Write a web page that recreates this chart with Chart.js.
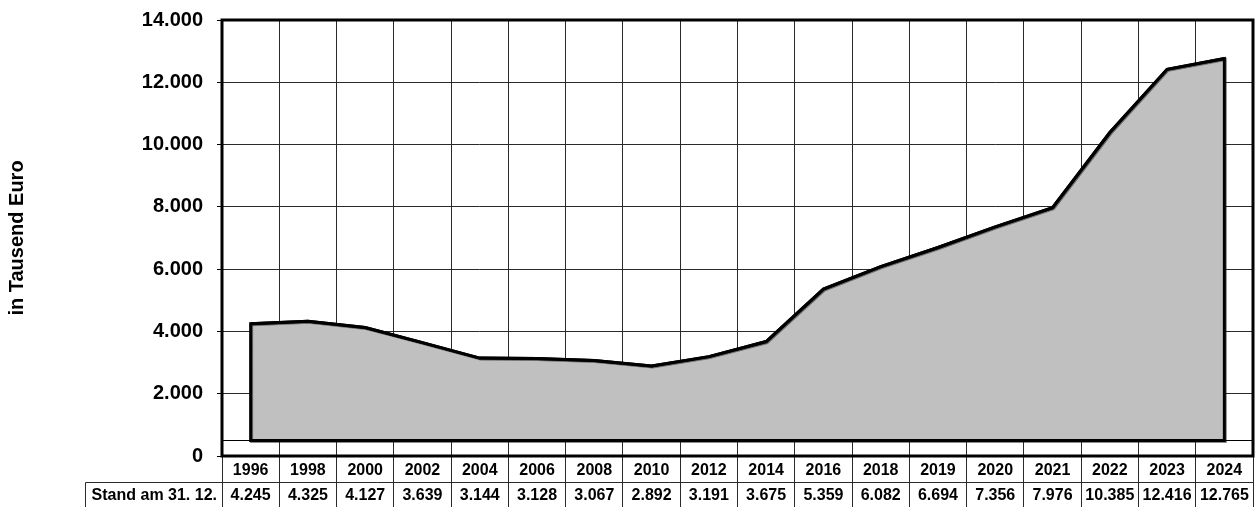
<!DOCTYPE html>
<html>
<head>
<meta charset="utf-8">
<script src="https://cdn.jsdelivr.net/npm/chart.js@4/dist/chart.umd.min.js"></script>
<style>
  html, body { margin: 0; padding: 0; background: #fff; }
  #wrap { width: 1255px; height: 507px; }
</style>
</head>
<body>
<div id="wrap"><canvas id="chart" width="1255" height="507"></canvas></div>
<script>
// Data
const years = ['1996', '1998', '2000', '2002', '2004', '2006', '2008', '2010', '2012',
               '2014', '2016', '2018', '2019', '2020', '2021', '2022', '2023', '2024'];
const stand = [4245, 4325, 4127, 3639, 3144, 3128, 3067, 2892, 3191,
               3675, 5359, 6082, 6694, 7356, 7976, 10385, 12416, 12765];
const yMin = 0, yMax = 14000, yStep = 2000;
const areaBase = 500;                 // area is filled down to this value
const axisTitle = 'in Tausend Euro';
const rowLabel = 'Stand am 31. 12.';

const FONT = "'Liberation Sans', Arial, sans-serif";
const GRID = '#2a2a2a';

// 12765 -> "12.765"
const fmt = v => String(v).replace(/\B(?=(\d{3})+(?!\d))/g, '.');

// Outline of the area, base line, frame and the data row under the axis
const tablePlugin = {
    id: 'standTable',
    beforeDatasetsDraw(chart) {
        const { ctx, chartArea: a, scales: { y } } = chart;
        const yb = Math.round(y.getPixelForValue(areaBase)) + 0.5;
        ctx.save();
        ctx.strokeStyle = '#000';
        ctx.lineWidth = 1;
        ctx.beginPath();
        ctx.moveTo(a.left, yb);
        ctx.lineTo(a.right, yb);
        ctx.stroke();
        ctx.restore();
    },
    afterDatasetsDraw(chart) {
        const { ctx, scales: { y } } = chart;
        const pts = chart.getDatasetMeta(0).data;
        const yb = y.getPixelForValue(areaBase);
        ctx.save();
        ctx.strokeStyle = '#000';
        ctx.lineWidth = 3;
        ctx.lineJoin = 'miter';
        ctx.shadowColor = 'rgba(0,0,0,0.45)';
        ctx.shadowBlur = 0;
        ctx.shadowOffsetX = 1;
        ctx.shadowOffsetY = 1;
        ctx.beginPath();
        ctx.moveTo(pts[0].x, yb);
        pts.forEach(p => ctx.lineTo(p.x, p.y));
        ctx.lineTo(pts[pts.length - 1].x, yb);
        ctx.closePath();
        ctx.stroke();
        ctx.restore();
    },
    afterDraw(chart) {
        const { ctx, chartArea: a, scales: { x } } = chart;
        const rowTop = a.bottom + 26.5;
        const labelLeft = 85.5;
        ctx.save();
        // frame
        ctx.strokeStyle = '#000';
        ctx.lineWidth = 3;
        ctx.strokeRect(a.left, a.top, a.right - a.left, a.bottom - a.top);
        // data row lines
        ctx.lineWidth = 1;
        ctx.strokeStyle = GRID;
        ctx.beginPath();
        ctx.moveTo(labelLeft, rowTop);
        ctx.lineTo(a.right, rowTop);
        ctx.moveTo(labelLeft, rowTop);
        ctx.lineTo(labelLeft, chart.height);
        ctx.stroke();
        // data row texts
        const cy = (rowTop + chart.height) / 2 + 0.5;
        ctx.fillStyle = '#000';
        ctx.font = 'bold 16px ' + FONT;
        ctx.textBaseline = 'middle';
        ctx.textAlign = 'right';
        ctx.fillText(rowLabel, a.left - 5, cy);
        ctx.textAlign = 'center';
        stand.forEach((v, i) => ctx.fillText(fmt(v), x.getPixelForValue(i), cy));
        ctx.restore();
    }
};

const ctx = document.getElementById('chart').getContext('2d');
new Chart(ctx, {
    type: 'line',
    data: {
        labels: years,
        datasets: [{
            label: rowLabel,
            data: stand,
            borderColor: '#000',
            backgroundColor: '#c0c0c0',
            borderWidth: 3,
            tension: 0,
            fill: { value: areaBase },
            pointRadius: 0
        }]
    },
    options: {
        responsive: false,
        animation: false,
        devicePixelRatio: 1,
        layout: { padding: { top: 20, right: 2, left: 0, bottom: 0 } },
        plugins: {
            legend: { display: false },
            tooltip: { enabled: false }
        },
        scales: {
            x: {
                type: 'category',
                offset: true,
                border: { display: false },
                grid: { offset: true, color: GRID, lineWidth: 1, tickLength: 51, tickColor: GRID },
                ticks: {
                    color: '#000',
                    font: { family: FONT, size: 16, weight: 'bold' },
                    padding: -46,
                    maxRotation: 0,
                    autoSkip: false
                },
                afterFit: s => { s.height = 51; s.paddingLeft = 0; s.paddingRight = 0; }
            },
            y: {
                min: yMin,
                max: yMax,
                border: { display: false },
                grid: { color: GRID, lineWidth: 1, tickLength: 5, tickColor: '#000' },
                ticks: {
                    stepSize: yStep,
                    color: '#000',
                    font: { family: FONT, size: 20, weight: 'bold' },
                    padding: 14,
                    callback: v => fmt(v)
                },
                title: {
                    display: true,
                    text: axisTitle,
                    color: '#000',
                    font: { family: FONT, size: 20, weight: 'bold' },
                    padding: { top: 5, bottom: 0 }
                },
                afterFit: s => { s.width = 222; s.paddingTop = 0; s.paddingBottom = 0; }
            }
        }
    },
    plugins: [tablePlugin]
});
</script>
</body>
</html>
